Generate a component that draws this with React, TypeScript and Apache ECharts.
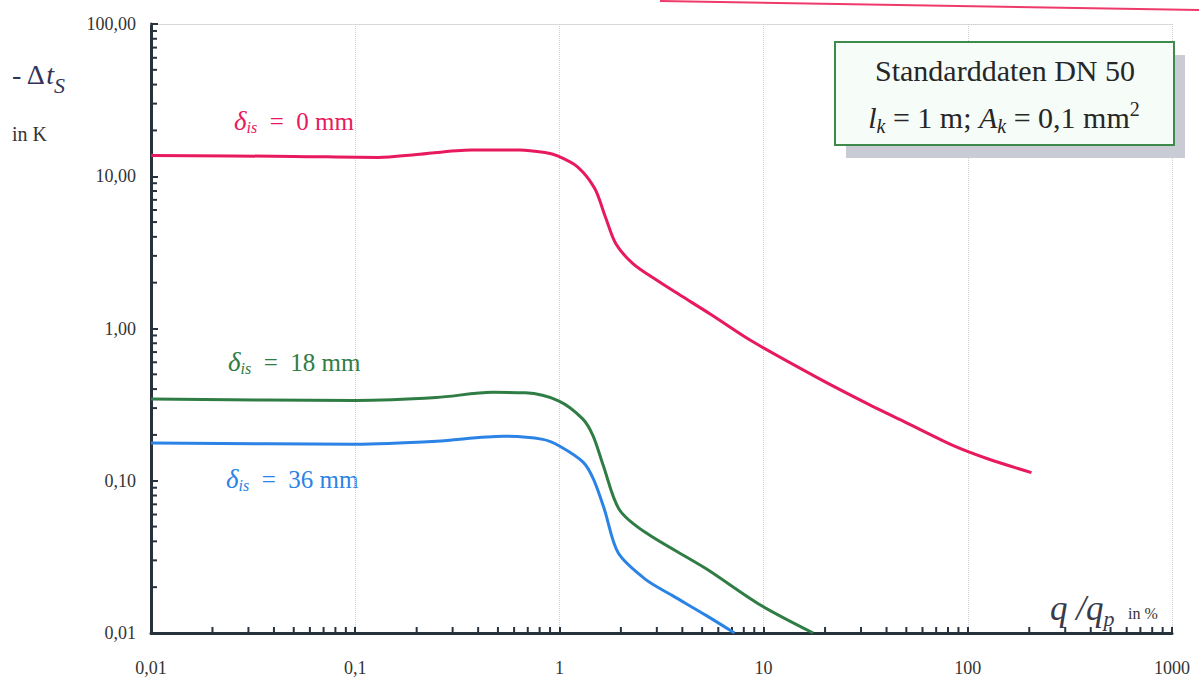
import React, { useEffect, useRef } from 'react';
import * as echarts from 'echarts';

// ---- tick labels ----
const xTickLabels = ['0,01', '0,1', '1', '10', '100', '1000'];
const yTickLabels = ['0,01', '0,10', '1,00', '10,00', '100,00'];
const minorSteps = [2, 3, 4, 5, 6, 7, 8, 9];
const xDecades = [0.01, 0.1, 1, 10, 100];
const yDecades = [0.01, 0.1, 1, 10];

// ---- series: δis = 0 mm ----
const red0X = [0.01, 0.05, 0.13, 0.2, 0.37, 0.64, 0.85, 0.98, 1.23, 1.49, 1.68, 1.89, 2.29, 2.99, 3.86, 5.5, 8.7, 18.6, 32.9, 48, 85, 124, 205];
const red0Y = [13.7, 13.5, 13.3, 13.9, 14.9, 14.9, 14.3, 13.6, 11.5, 8.3, 5.4, 3.6, 2.67, 2.08, 1.67, 1.24, 0.83, 0.47, 0.316, 0.247, 0.17, 0.14, 0.113];

// ---- series: δis = 18 mm ----
const green18X = [0.01, 0.1, 0.25, 0.47, 0.68, 0.99, 1.3, 1.46, 1.64, 1.96, 2.62, 5.19, 9.55, 17.5];
const green18Y = [0.344, 0.337, 0.352, 0.381, 0.378, 0.335, 0.255, 0.198, 0.126, 0.065, 0.046, 0.0266, 0.0154, 0.01];

// ---- series: δis = 36 mm ----
const blue36X = [0.01, 0.1, 0.25, 0.53, 0.83, 1.0, 1.31, 1.47, 1.66, 1.94, 2.64, 3.58, 5.25, 7.2];
const blue36Y = [0.177, 0.174, 0.182, 0.196, 0.187, 0.169, 0.132, 0.102, 0.065, 0.0336, 0.0225, 0.0176, 0.013, 0.01];

const RED = '#e8195c';
const GREEN = '#2f7d45';
const BLUE = '#2b83e6';
const AXIS = '#27323c';
const SERIF = "'Liberation Serif', 'DejaVu Serif', serif";

const pairs = (xs: number[], ys: number[]) => xs.map((x, i) => [x, ys[i]]);

const xMinor: number[][] = [];
xDecades.forEach((d) => minorSteps.forEach((m) => xMinor.push([m * d, 0.01])));
const yMinor: number[][] = [];
yDecades.forEach((d) => minorSteps.forEach((m) => yMinor.push([0.01, m * d])));

const idx = (v: number) => Math.round(Math.log10(v));

function deltaLabel(x: number, y: number, value: string, color: string) {
  return {
    type: 'text',
    x,
    y,
    style: {
      text: '{d|δ}{s|is}{t|  =  ' + value + '}',
      fill: color,
      verticalAlign: 'middle',
      rich: {
        d: { fontFamily: SERIF, fontStyle: 'italic', fontSize: 27, fill: color, lineHeight: 28 },
        s: { fontFamily: SERIF, fontStyle: 'italic', fontSize: 16, fill: color, lineHeight: 16, verticalAlign: 'bottom' },
        t: { fontFamily: SERIF, fontSize: 25, fill: color, lineHeight: 28 },
      },
    },
  };
}

export default function App() {
  const ref = useRef<HTMLDivElement>(null);
  useEffect(() => {
    if (!ref.current) return;
    const chart = echarts.init(ref.current, null, { renderer: 'svg' });
    const option: any = {
      animation: false,
      backgroundColor: '#ffffff',
      grid: { left: 151, top: 24, width: 1021, height: 609, containLabel: false },
      xAxis: [
        {
          type: 'log',
          logBase: 10,
          min: 0.01,
          max: 1000,
          axisLine: { show: true, onZero: false, lineStyle: { color: AXIS, width: 3 } },
          axisTick: { show: true, inside: true, length: 6, lineStyle: { color: AXIS, width: 2 } },
          axisLabel: {
            margin: 26,
            fontFamily: SERIF,
            fontSize: 18,
            color: '#333',
            formatter: (v: number) => xTickLabels[idx(v) + 2] ?? '',
          },
          splitLine: { show: true, lineStyle: { type: 'dotted', color: '#cfcfcf', width: 1 } },
        },
        {
          type: 'log',
          logBase: 10,
          min: 0.01,
          max: 1000,
          position: 'top',
          axisLine: { show: true, onZero: false, lineStyle: { type: 'dotted', color: '#cfcfcf', width: 1 } },
          axisTick: { show: false },
          axisLabel: { show: false },
          splitLine: { show: false },
        },
      ],
      yAxis: {
        type: 'log',
        logBase: 10,
        min: 0.01,
        max: 100,
        axisLine: { show: true, onZero: false, lineStyle: { color: AXIS, width: 3 } },
        axisTick: { show: true, inside: true, length: 7, lineStyle: { color: AXIS, width: 2 } },
        axisLabel: {
          margin: 15,
          fontFamily: SERIF,
          fontSize: 18,
          color: '#333',
          formatter: (v: number) => yTickLabels[idx(v) + 2] ?? '',
        },
        splitLine: { show: false },
      },
      series: [
        {
          type: 'custom',
          silent: true,
          clip: false,
          data: xMinor,
          renderItem: (params: any, api: any) => {
            const p = api.coord([api.value(0), api.value(1)]);
            return {
              type: 'line',
              shape: { x1: p[0], y1: p[1], x2: p[0], y2: p[1] - 6 },
              style: { stroke: AXIS, lineWidth: 2 },
            };
          },
          z: 3,
        },
        {
          type: 'custom',
          silent: true,
          clip: false,
          data: yMinor,
          renderItem: (params: any, api: any) => {
            const p = api.coord([api.value(0), api.value(1)]);
            return {
              type: 'line',
              shape: { x1: p[0], y1: p[1], x2: p[0] + 6, y2: p[1] },
              style: { stroke: AXIS, lineWidth: 2 },
            };
          },
          z: 3,
        },
        {
          name: 'δis = 0 mm',
          type: 'line',
          data: pairs(red0X, red0Y),
          showSymbol: false,
          symbol: 'none',
          smooth: 0.3,
          lineStyle: { color: RED, width: 3 },
          itemStyle: { color: RED },
          z: 5,
        },
        {
          name: 'δis = 18 mm',
          type: 'line',
          data: pairs(green18X, green18Y),
          showSymbol: false,
          symbol: 'none',
          smooth: 0.3,
          lineStyle: { color: GREEN, width: 3 },
          itemStyle: { color: GREEN },
          z: 5,
        },
        {
          name: 'δis = 36 mm',
          type: 'line',
          data: pairs(blue36X, blue36Y),
          showSymbol: false,
          symbol: 'none',
          smooth: 0.3,
          lineStyle: { color: BLUE, width: 3 },
          itemStyle: { color: BLUE },
          z: 5,
        },
      ],
      graphic: {
        elements: [
          // scan artefact line at top
          { type: 'line', shape: { x1: 660, y1: 1, x2: 1199, y2: 10 }, style: { stroke: '#ee3a6a', lineWidth: 2 }, silent: true },
          // box shadow
          { type: 'rect', shape: { x: 846, y: 55, width: 339, height: 103 }, style: { fill: '#c9ccd5' }, z: 10 },
          // box
          { type: 'rect', shape: { x: 835, y: 42, width: 339, height: 103 }, style: { fill: '#f6fcf8', stroke: '#3d8a4a', lineWidth: 2 }, z: 11 },
          {
            type: 'text',
            x: 1005,
            y: 70,
            z: 12,
            style: {
              text: 'Standarddaten DN 50',
              fontFamily: SERIF,
              fontSize: 30,
              fill: '#262626',
              align: 'center',
              verticalAlign: 'middle',
            },
          },
          {
            type: 'text',
            x: 1004,
            y: 117,
            z: 12,
            style: {
              text: '{i|l}{k|k}{n| = 1 m; }{i|A}{k|k}{n| = 0,1 mm}{p|2}',
              fill: '#262626',
              align: 'center',
              verticalAlign: 'middle',
              rich: {
                i: { fontFamily: SERIF, fontStyle: 'italic', fontSize: 30, fill: '#262626', lineHeight: 37 },
                n: { fontFamily: SERIF, fontSize: 30, fill: '#262626', lineHeight: 37 },
                k: { fontFamily: SERIF, fontStyle: 'italic', fontSize: 20, fill: '#262626', lineHeight: 20, verticalAlign: 'bottom' },
                p: { fontFamily: SERIF, fontSize: 20, fill: '#262626', lineHeight: 20, verticalAlign: 'top' },
              },
            },
          },
          // y axis title
          {
            type: 'text',
            x: 12,
            y: 74,
            style: {
              text: '{a|- Δ}{b|t}{c|S}',
              fill: '#33335a',
              verticalAlign: 'middle',
              rich: {
                a: { fontFamily: SERIF, fontSize: 28, fill: '#33335a', lineHeight: 44 },
                b: { fontFamily: SERIF, fontStyle: 'italic', fontSize: 28, fill: '#33335a', lineHeight: 44 },
                c: { fontFamily: SERIF, fontStyle: 'italic', fontSize: 22, fill: '#33335a', lineHeight: 22, verticalAlign: 'bottom' },
              },
            },
          },
          {
            type: 'text',
            x: 12,
            y: 134,
            style: { text: 'in K', fontFamily: SERIF, fontSize: 20, fill: '#333', verticalAlign: 'middle' },
          },
          // x axis title
          {
            type: 'text',
            x: 1050,
            y: 608,
            style: {
              text: '{q|q /q}{p|p}',
              fill: '#3a3a4a',
              verticalAlign: 'middle',
              rich: {
                q: { fontFamily: SERIF, fontStyle: 'italic', fontSize: 35, fill: '#3a3a4a', lineHeight: 43 },
                p: { fontFamily: SERIF, fontStyle: 'italic', fontSize: 22, fill: '#3a3a4a', lineHeight: 22, verticalAlign: 'bottom' },
              },
            },
          },
          {
            type: 'text',
            x: 1128,
            y: 613,
            style: { text: 'in %', fontFamily: SERIF, fontSize: 16, fill: '#333', verticalAlign: 'middle' },
          },
          deltaLabel(234, 121, '0 mm', RED),
          deltaLabel(228, 362, '18 mm', GREEN),
          deltaLabel(226, 479, '36 mm', BLUE),
        ],
      },
    };
    chart.setOption(option);
    return () => chart.dispose();
  }, []);
  return <div ref={ref} style={{ position: 'fixed', left: 0, top: 0, width: 1199, height: 685 }} />;
}
